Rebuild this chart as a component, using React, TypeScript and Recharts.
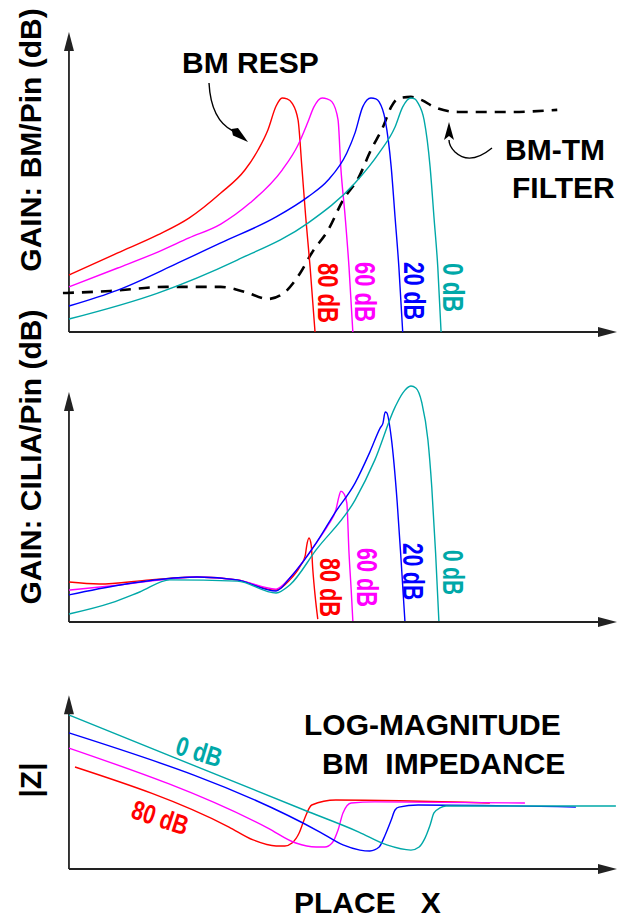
import React from 'react';
import { LineChart, Line, XAxis, YAxis, ReferenceLine } from 'recharts';

// place along the cochlea (0..100) vs. relative gain / impedance (0..100)
type Pt = { x: number; y: number };

// --- BM response (top panel) ---
const bmGain80: Pt[] = [
  { x: 0, y: 19.3 }, { x: 8.9, y: 26.8 }, { x: 16.2, y: 32.9 }, { x: 21.9, y: 38.6 },
  { x: 27.7, y: 47.1 }, { x: 32.1, y: 54.9 }, { x: 34.5, y: 61.7 }, { x: 36.3, y: 68.5 },
  { x: 37.8, y: 76.6 }, { x: 38.9, y: 79.3 }, { x: 39.8, y: 79.0 }, { x: 40.7, y: 77.6 },
  { x: 41.8, y: 71.9 }, { x: 42.5, y: 55.9 }, { x: 43.2, y: 39.0 }, { x: 44.0, y: 22.0 },
  { x: 44.9, y: 0 },
];
const bmGain60: Pt[] = [
  { x: 0, y: 15.3 }, { x: 8.9, y: 21.7 }, { x: 16.2, y: 27.1 }, { x: 21.9, y: 31.9 },
  { x: 27.7, y: 36.6 }, { x: 33.0, y: 43.7 }, { x: 38.9, y: 54.9 }, { x: 41.8, y: 63.4 },
  { x: 43.6, y: 71.2 }, { x: 44.7, y: 76.3 }, { x: 46.2, y: 79.3 }, { x: 47.1, y: 79.0 },
  { x: 48.0, y: 78.0 }, { x: 49.1, y: 71.9 }, { x: 49.6, y: 55.9 }, { x: 50.4, y: 39.0 },
  { x: 51.1, y: 22.0 }, { x: 51.8, y: 0 },
];
const bmGain20: Pt[] = [
  { x: 0, y: 8.8 }, { x: 8.9, y: 14.2 }, { x: 19.9, y: 23.4 }, { x: 27.7, y: 30.2 },
  { x: 37.8, y: 39.0 }, { x: 43.6, y: 45.8 }, { x: 47.3, y: 51.5 }, { x: 50.7, y: 60.7 },
  { x: 52.2, y: 67.5 }, { x: 53.6, y: 76.3 }, { x: 55.1, y: 79.3 }, { x: 56.0, y: 79.0 },
  { x: 56.6, y: 78.0 }, { x: 57.7, y: 71.9 }, { x: 58.8, y: 55.9 }, { x: 59.5, y: 39.0 },
  { x: 60.2, y: 22.0 }, { x: 60.9, y: 0 },
];
const bmGain0: Pt[] = [
  { x: 0, y: 4.4 }, { x: 16.2, y: 13.2 }, { x: 30.7, y: 24.4 }, { x: 43.6, y: 36.9 },
  { x: 52.2, y: 50.5 }, { x: 56.6, y: 60.7 }, { x: 59.5, y: 69.5 }, { x: 60.9, y: 76.3 },
  { x: 62.4, y: 79.3 }, { x: 63.1, y: 79.0 }, { x: 63.7, y: 77.6 }, { x: 64.8, y: 71.9 },
  { x: 65.9, y: 55.9 }, { x: 66.6, y: 39.0 }, { x: 67.3, y: 22.0 }, { x: 67.9, y: 0 },
];
const bmTmFilter: Pt[] = [
  { x: -1.1, y: 13.2 }, { x: 7.5, y: 13.9 }, { x: 17.7, y: 15.3 }, { x: 27.7, y: 15.3 },
  { x: 32.1, y: 13.6 }, { x: 36.3, y: 11.2 }, { x: 39.2, y: 13.2 }, { x: 42.2, y: 20.0 },
  { x: 44.3, y: 26.8 }, { x: 47.3, y: 34.6 }, { x: 50.0, y: 44.7 }, { x: 52.9, y: 52.5 },
  { x: 55.1, y: 61.7 }, { x: 57.3, y: 69.5 }, { x: 58.8, y: 76.3 }, { x: 60.2, y: 79.3 },
  { x: 62.4, y: 79.7 }, { x: 64.4, y: 78.6 }, { x: 66.6, y: 76.3 }, { x: 71.0, y: 74.6 },
  { x: 81.0, y: 74.6 }, { x: 89.1, y: 75.3 },
];

// --- cilia response (middle panel) ---
const ciliaGain80: Pt[] = [
  { x: 0, y: 16.5 }, { x: 5.5, y: 15.7 }, { x: 14.8, y: 17.4 }, { x: 23.4, y: 18.6 },
  { x: 30.7, y: 17.4 }, { x: 37.8, y: 13.2 }, { x: 40.3, y: 17.4 }, { x: 42.2, y: 23.1 },
  { x: 43.1, y: 27.3 }, { x: 43.4, y: 31.8 }, { x: 43.8, y: 34.7 }, { x: 44.2, y: 31.8 },
  { x: 44.5, y: 21.5 }, { x: 44.9, y: 11.2 }, { x: 45.4, y: 1.2 },
];
const ciliaGain60: Pt[] = [
  { x: 0, y: 13.2 }, { x: 9.3, y: 15.3 }, { x: 23.4, y: 18.6 }, { x: 30.7, y: 17.4 },
  { x: 37.8, y: 13.6 }, { x: 40.3, y: 18.2 }, { x: 42.9, y: 25.6 }, { x: 45.1, y: 32.6 },
  { x: 47.3, y: 40.1 }, { x: 48.7, y: 46.3 }, { x: 49.3, y: 52.1 }, { x: 49.6, y: 54.1 },
  { x: 50.2, y: 52.9 }, { x: 50.7, y: 49.2 }, { x: 51.1, y: 28.5 }, { x: 51.5, y: 13.2 },
  { x: 51.8, y: 0.4 },
];
const ciliaGain20: Pt[] = [
  { x: 0, y: 11.2 }, { x: 9.3, y: 15.3 }, { x: 23.4, y: 18.6 }, { x: 30.7, y: 17.4 },
  { x: 37.8, y: 12.8 }, { x: 40.3, y: 18.2 }, { x: 45.1, y: 32.6 }, { x: 48.5, y: 45.0 },
  { x: 52.2, y: 57.4 }, { x: 54.9, y: 70.2 }, { x: 56.8, y: 80.2 }, { x: 57.3, y: 82.2 },
  { x: 57.7, y: 86.8 }, { x: 58.0, y: 86.4 }, { x: 58.8, y: 76.4 }, { x: 59.9, y: 49.2 },
  { x: 60.6, y: 25.6 }, { x: 61.3, y: 0.4 },
];
const ciliaGain0: Pt[] = [
  { x: 0, y: 3.3 }, { x: 7.7, y: 7.9 }, { x: 12.9, y: 12.4 }, { x: 18.4, y: 17.4 },
  { x: 30.7, y: 16.9 }, { x: 37.8, y: 12.0 }, { x: 40.3, y: 15.3 }, { x: 45.1, y: 29.8 },
  { x: 52.2, y: 50.4 }, { x: 55.8, y: 66.9 }, { x: 59.5, y: 88.8 }, { x: 60.9, y: 94.6 },
  { x: 62.4, y: 97.5 }, { x: 63.3, y: 96.7 }, { x: 64.4, y: 90.5 }, { x: 65.5, y: 75.2 },
  { x: 66.2, y: 55.8 }, { x: 66.9, y: 28.5 }, { x: 67.5, y: 0.4 },
];

// --- log-magnitude BM impedance (bottom panel) ---
const impedance80: Pt[] = [
  { x: 1.1, y: 59.3 }, { x: 29.2, y: 24.4 }, { x: 33.6, y: 16.9 }, { x: 37.8, y: 13.4 },
  { x: 39.4, y: 13.4 }, { x: 40.7, y: 15.1 }, { x: 42.0, y: 20.9 }, { x: 42.9, y: 28.5 },
  { x: 44.3, y: 37.2 }, { x: 48.7, y: 40.1 }, { x: 76.8, y: 38.4 },
];
const impedance60: Pt[] = [
  { x: 0, y: 70.3 }, { x: 36.3, y: 23.8 }, { x: 41.4, y: 15.1 }, { x: 45.1, y: 12.8 },
  { x: 46.7, y: 12.8 }, { x: 48.0, y: 15.1 }, { x: 49.1, y: 22.7 }, { x: 50.0, y: 32.6 },
  { x: 51.5, y: 38.4 }, { x: 55.8, y: 39.0 }, { x: 83.2, y: 38.4 },
];
const impedance20: Pt[] = [
  { x: 0, y: 79.1 }, { x: 45.8, y: 21.5 }, { x: 50.0, y: 14.0 }, { x: 53.1, y: 11.0 },
  { x: 54.9, y: 10.5 }, { x: 56.6, y: 12.8 }, { x: 57.7, y: 19.8 }, { x: 58.8, y: 28.5 },
  { x: 59.5, y: 34.3 }, { x: 60.2, y: 36.0 }, { x: 63.7, y: 37.2 }, { x: 92.5, y: 36.0 },
];
const impedance0: Pt[] = [
  { x: 0, y: 89.5 }, { x: 42.9, y: 34.3 }, { x: 52.9, y: 21.5 }, { x: 58.0, y: 14.0 },
  { x: 62.4, y: 11.0 }, { x: 63.9, y: 12.8 }, { x: 64.8, y: 16.9 }, { x: 65.9, y: 25.6 },
  { x: 66.6, y: 32.6 }, { x: 67.7, y: 35.5 }, { x: 68.8, y: 36.6 }, { x: 78.6, y: 36.6 },
  { x: 99.8, y: 36.6 },
];

const levels = ['80 dB', '60 dB', '20 dB', '0 dB'];
const levelColors = ['#ff0000', '#ff00ff', '#0000ff', '#00a8a8'];

const FONT = "'Liberation Sans', Arial, Helvetica, sans-serif";
const AXIS = '#222';

const ArrowAxis = (props: any) => {
  const { x1, y1, x2, y2 } = props;
  const dx = x2 - x1;
  const dy = y2 - y1;
  const len = Math.hypot(dx, dy) || 1;
  const ux = dx / len;
  const uy = dy / len;
  const L = 19;
  const W = 5;
  const bx = x2 - ux * L;
  const by = y2 - uy * L;
  const pts = `${x2},${y2} ${bx - uy * W},${by + ux * W} ${bx + uy * W},${by - ux * W}`;
  return (
    <g>
      <line x1={x1} y1={y1} x2={bx + ux * 2} y2={by + uy * 2} stroke={AXIS} strokeWidth={1.8} />
      <polygon points={pts} fill={AXIS} />
    </g>
  );
};

interface PanelProps {
  top: number;
  height: number;
  marginTop: number;
  marginBottom: number;
  series: Pt[][];
  yAxisTop: number;
  filter?: Pt[];
}

const Panel: React.FC<PanelProps> = ({ top, height, marginTop, marginBottom, series, yAxisTop, filter }) => (
  <div style={{ position: 'absolute', left: 0, top }}>
    <LineChart
      width={619}
      height={height}
      margin={{ top: marginTop, right: 2, bottom: marginBottom, left: 58 }}
    >
      <XAxis type="number" dataKey="x" domain={[-2, 100]} hide allowDataOverflow />
      <YAxis type="number" dataKey="y" domain={[0, 100]} hide allowDataOverflow />
      <ReferenceLine
        segment={[{ x: 0, y: 0 }, { x: 0, y: yAxisTop }]}
        ifOverflow="visible"
        shape={ArrowAxis}
      />
      <ReferenceLine
        segment={[{ x: 0, y: 0 }, { x: 100, y: 0 }]}
        ifOverflow="visible"
        shape={ArrowAxis}
      />
      {filter && (
        <Line
          data={filter}
          dataKey="y"
          type="monotone"
          stroke="#000"
          strokeWidth={2.6}
          strokeDasharray="11 8"
          dot={false}
          activeDot={false}
          isAnimationActive={false}
        />
      )}
      {series.map((d, i) => (
        <Line
          key={levels[i]}
          data={d}
          dataKey="y"
          name={levels[i]}
          type="monotone"
          stroke={levelColors[i]}
          strokeWidth={1.4}
          dot={false}
          activeDot={false}
          isAnimationActive={false}
        />
      ))}
    </LineChart>
  </div>
);

// rotated level labels next to the falling edges
const dropLabels = [
  { x: 318, y: 263, len: 60, c: 0 },
  { x: 355, y: 262, len: 60, c: 1 },
  { x: 404, y: 262, len: 58, c: 2 },
  { x: 443, y: 263, len: 49, c: 3 },
  { x: 320, y: 558, len: 59, c: 0 },
  { x: 357, y: 548, len: 59, c: 1 },
  { x: 403, y: 543, len: 57, c: 2 },
  { x: 443, y: 550, len: 45, c: 3 },
];

const bold = { fontFamily: FONT, fontWeight: 700 } as const;

export default function App() {
  return (
    <div style={{ position: 'absolute', left: 0, top: 0, width: 619, height: 918, background: '#fff' }}>
      <Panel
        top={0}
        height={340}
        marginTop={37}
        marginBottom={8}
        series={[bmGain80, bmGain60, bmGain20, bmGain0]}
        filter={bmTmFilter}
        yAxisTop={101.7}
      />
      <Panel
        top={340}
        height={290}
        marginTop={40}
        marginBottom={8}
        series={[ciliaGain80, ciliaGain60, ciliaGain20, ciliaGain0]}
        yAxisTop={95}
      />
      <Panel
        top={680}
        height={200}
        marginTop={17}
        marginBottom={11}
        series={[impedance80, impedance60, impedance20, impedance0]}
        yAxisTop={101}
      />

      <svg
        width={619}
        height={918}
        style={{ position: 'absolute', left: 0, top: 0, pointerEvents: 'none' }}
      >
        {/* axis titles */}
        <text transform="translate(41,140) rotate(-90)" textAnchor="middle" fontSize={30} {...bold}>
          GAIN: BM/Pin (dB)
        </text>
        <text transform="translate(41,457) rotate(-90)" textAnchor="middle" fontSize={30} {...bold}>
          GAIN: CILIA/Pin (dB)
        </text>
        <text transform="translate(41,780) rotate(-90)" textAnchor="middle" fontSize={30} {...bold}>
          |Z|
        </text>
        <text x={294} y={913} fontSize={30} style={{ whiteSpace: 'pre' }} {...bold}>
          PLACE   X
        </text>

        {/* annotations */}
        <text x={182} y={73} fontSize={30} {...bold}>BM RESP</text>
        <path d="M209,83 Q211,120 233,131" fill="none" stroke="#000" strokeWidth={1.4} />
        <polygon points="248,142 233,135.5 231.5,129 238,128" fill="#000" />

        <text x={505} y={160} fontSize={30} {...bold}>BM-TM</text>
        <text x={512} y={198} fontSize={30} {...bold}>FILTER</text>
        <path d="M492,148 Q470,166 455,152 Q449,146 449,140" fill="none" stroke="#000" strokeWidth={1.4} />
        <polygon points="449,122 454,140 449,136 444,140" fill="#000" />

        <text x={304} y={735} fontSize={30} {...bold}>LOG-MAGNITUDE</text>
        <text x={322} y={774} fontSize={30} style={{ whiteSpace: 'pre' }} {...bold}>
          BM  IMPEDANCE
        </text>

        {dropLabels.map((l, i) => (
          <text
            key={i}
            transform={`translate(${l.x},${l.y}) rotate(90)`}
            fontSize={29}
            fill={levelColors[l.c]}
            textLength={l.len}
            lengthAdjust="spacingAndGlyphs"
            {...bold}
          >
            {levels[l.c]}
          </text>
        ))}

        <text
          transform="translate(199,752) rotate(17)"
          textAnchor="middle"
          dy={9}
          fontSize={27}
          fill={levelColors[3]}
          textLength={47}
          lengthAdjust="spacingAndGlyphs"
          {...bold}
        >
          {levels[3]}
        </text>
        <text
          transform="translate(160,818) rotate(18)"
          textAnchor="middle"
          dy={9}
          fontSize={27}
          fill={levelColors[0]}
          textLength={58}
          lengthAdjust="spacingAndGlyphs"
          {...bold}
        >
          {levels[0]}
        </text>
      </svg>
    </div>
  );
}
